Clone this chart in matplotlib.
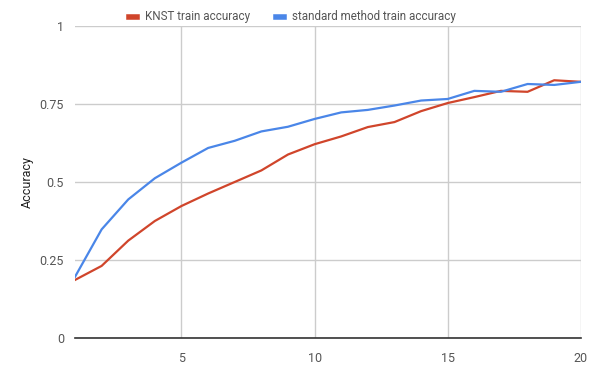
import matplotlib.pyplot as plt

plt.rcParams['font.family'] = ['Roboto', 'DejaVu Sans']

# data
epochs = list(range(1, 21))
knst_acc = [0.186, 0.231, 0.312, 0.375, 0.423, 0.463, 0.500, 0.537, 0.588, 0.621,
            0.646, 0.676, 0.692, 0.727, 0.753, 0.772, 0.792, 0.789, 0.826, 0.821]
std_acc = [0.196, 0.348, 0.444, 0.512, 0.562, 0.609, 0.632, 0.662, 0.677, 0.702,
           0.723, 0.731, 0.745, 0.761, 0.766, 0.792, 0.789, 0.814, 0.811, 0.821]
x_ticks = [5, 10, 15, 20]
y_ticks = [0, 0.25, 0.5, 0.75, 1]
y_tick_labels = ['0', '0.25', '0.5', '0.75', '1']

fig = plt.figure(figsize=(6, 3.71), dpi=100)
ax = fig.add_axes([0.125, 0.089, 0.843, 0.841])

ax.plot(epochs, knst_acc, color='#d0452b', lw=1.6, label='KNST train accuracy')
ax.plot(epochs, std_acc, color='#4a86e8', lw=1.6, label='standard method train accuracy')

ax.set_xlim(1, 20)
ax.set_ylim(0, 1)
ax.set_xticks(x_ticks)
ax.set_yticks(y_ticks)
ax.set_yticklabels(y_tick_labels)
ax.grid(True, color='#cccccc', lw=1)
ax.set_axisbelow(True)
for s in ['top', 'right', 'left']:
    ax.spines[s].set_visible(False)
ax.spines['bottom'].set_color('#333333')
ax.spines['bottom'].set_linewidth(1.2)
ax.tick_params(length=0, labelsize=9, labelcolor='#555555')
ax.tick_params(axis='x', pad=10)
ax.tick_params(axis='y', pad=8)
ax.set_ylabel('Accuracy', fontsize=9, color='#222222', labelpad=4)

fig.legend(loc='upper center', bbox_to_anchor=(0.487, 1.0), ncol=2, frameon=False,
           fontsize=8.4, handlelength=0.7, handleheight=0.5, columnspacing=2.2,
           handletextpad=0.7, labelcolor='#555555')
for line in fig.legends[0].get_lines():
    line.set_linewidth(4)

fig.savefig('out.png', dpi=100)
